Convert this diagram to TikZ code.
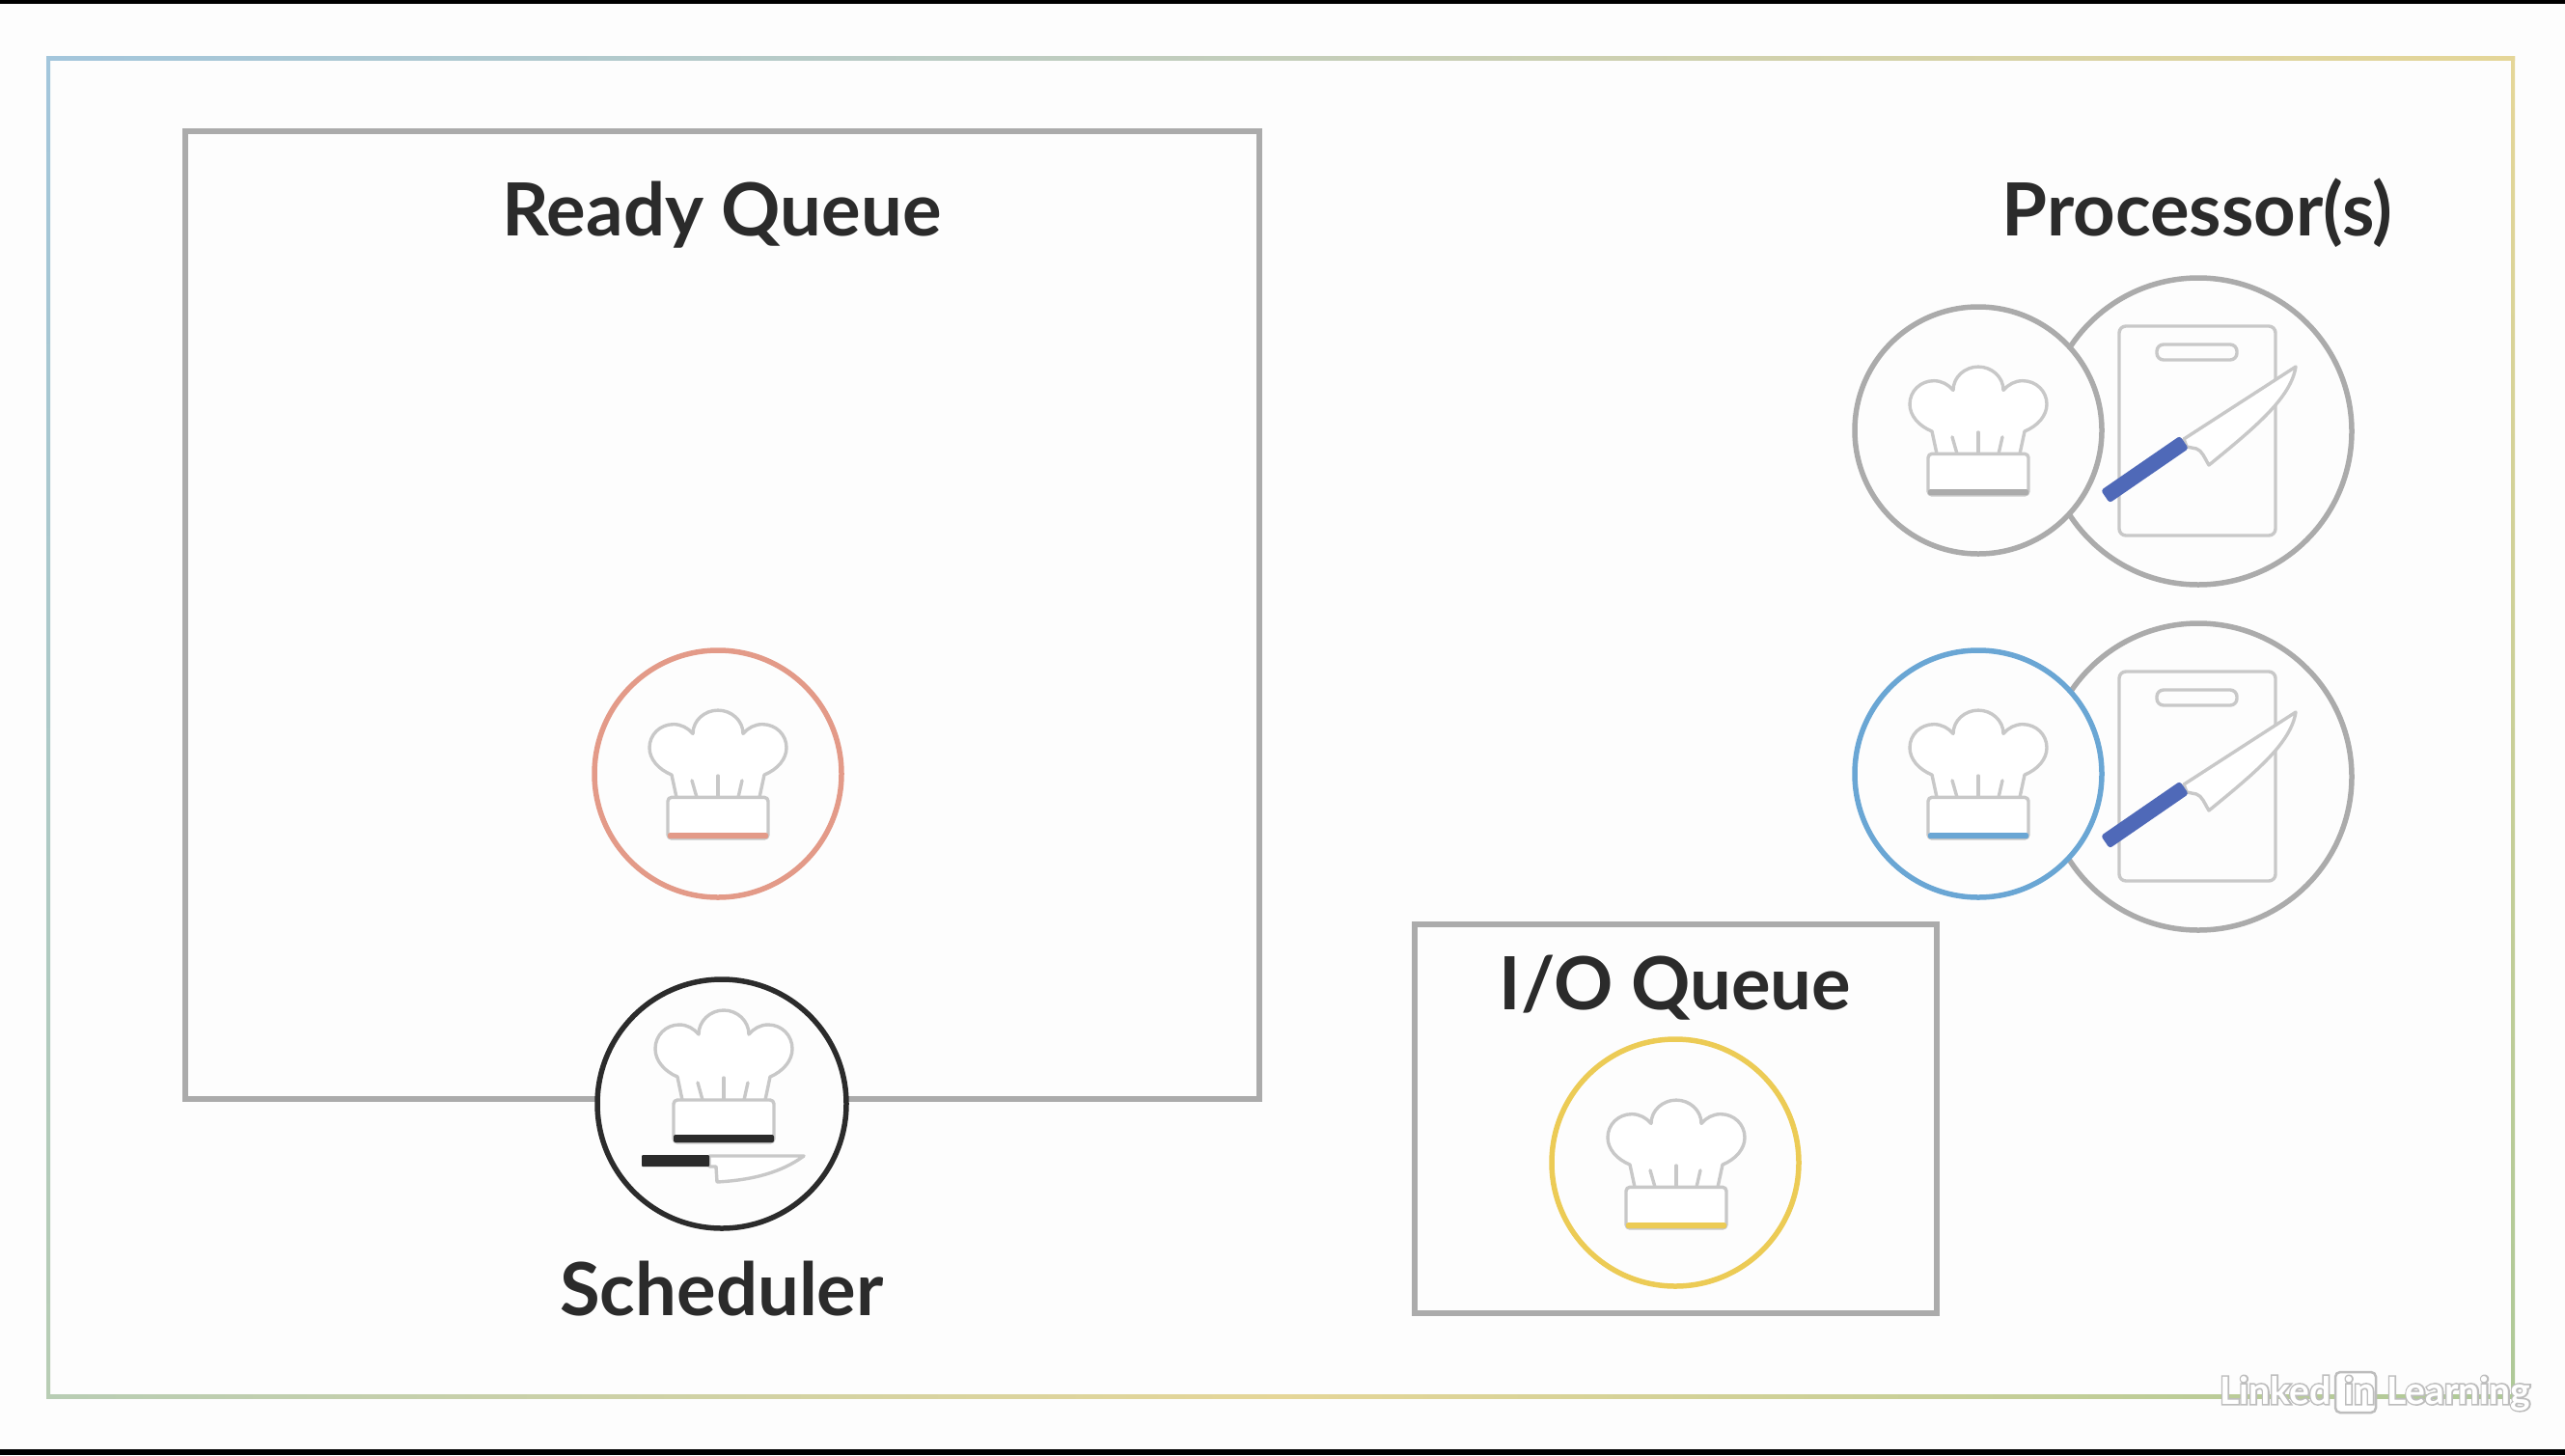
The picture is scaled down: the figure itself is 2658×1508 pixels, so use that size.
\documentclass[tikz,border=0pt]{standalone}
\usepackage{fontspec}
\setmainfont{Lato}[BoldFont={Lato Bold}]
\newfontface\wmhalo{Lato Bold}[FakeBold=8]
\newfontface\wmface{Lato Bold}
\definecolor{bgc}{HTML}{FDFDFD}
\definecolor{boxc}{HTML}{ABABAB}
\definecolor{linec}{HTML}{C8C8C8}
\definecolor{inkc}{HTML}{2B2B2B}
\definecolor{salmonc}{HTML}{E39A88}
\definecolor{bluec}{HTML}{6AA6D4}
\definecolor{yellowc}{HTML}{ECCB55}
\definecolor{knifec}{HTML}{4F69B8}
\definecolor{cblue}{HTML}{A3C6DC}
\definecolor{cyellow}{HTML}{E5D698}
\definecolor{cgreen}{HTML}{AEC998}
\definecolor{cgreengrey}{HTML}{B8CDB4}
\definecolor{wmc}{HTML}{BDBDBD}
\newcommand{\halotext}[1]{\leavevmode\rlap{\color{wmc}\wmhalo #1}{\color{white}\wmface #1}}
\tikzset{
  queuebox/.style={draw=boxc,line width=5.5pt,fill=none},
  title/.style={font=\fontsize{76}{76}\selectfont\bfseries,text=inkc,anchor=base,inner sep=0pt},
  ring/.style={circle,draw=#1,line width=5.5pt,fill=bgc,minimum size=256pt,inner sep=0pt},
  bigring/.style={circle,draw=boxc,line width=5.5pt,fill=bgc,minimum size=318pt,inner sep=0pt},
  thin line/.style={draw=linec,line width=3.4pt,line join=round,line cap=round},
  wmtext/.style={font=\fontsize{39}{39}\selectfont,anchor=base west,inner sep=0pt},
  pics/chefhat/.style 2 args={code={
    \path[thin line,fill=white] (-43,-44) -- (-48,-68)
      .. controls (-62,-74) and (-71,-85) .. (-71,-97)
      .. controls (-71,-111) and (-60,-122) .. (-46,-122)
      .. controls (-38,-122) and (-31,-118) .. (-26,-112)
      .. controls (-26,-126) and (-14,-137) .. (0,-137)
      .. controls (14,-137) and (26,-126) .. (26,-112)
      .. controls (31,-118) and (38,-122) .. (46,-122)
      .. controls (60,-122) and (71,-111) .. (71,-97)
      .. controls (71,-85) and (62,-74) .. (48,-68)
      -- (43,-44);
    \path[thin line] (-27,-62) -- (-22,-44);
    \path[thin line] (0,-67) -- (0,-44);
    \path[thin line] (25,-62) -- (21,-44);
    \path[thin line,fill=white,rounded corners=4pt] (-52,-44) rectangle (52,0);
    \fill[#1,rounded corners=2pt] (-52,-#2) rectangle (52,0);
  }},
  pics/boardknife/.style={code={
    \path[thin line,rounded corners=7pt] (-82,-109) rectangle (80,108);
    \path[thin line,rounded corners=7pt] (-43,-90) rectangle (40,-74);
    \path[thin line,fill=white] (-15,8) -- (101,-67)
      .. controls (96,-35) and (60,-5) .. (11,35)
      .. controls (6,27) and (4,20) .. (-2,18) -- (-12,16) -- cycle;
    \draw[knifec,fill=knifec,line width=6pt,line join=round] (-91.2,70.1) -- (-96.8,61.9) -- (-19.8,8.9) -- (-14.2,17.1) -- cycle;
  }}
}
\begin{document}
\begin{tikzpicture}[x=1pt,y=-1pt]
\useasboundingbox (0,0) rectangle (2658,1508);
\fill[bgc] (0,0) rectangle (2658,1508);
\fill[black] (0,0) rectangle (2658,4);
\fill[black] (0,1502) rectangle (2658,1508);
% gradient frame
\shade[left color=cblue,right color=cyellow] (48,58) rectangle (2606,62);
\shade[left color=cgreengrey,right color=cgreen,middle color=cyellow] (48,1445) rectangle (2606,1449);
\shade[top color=cblue,bottom color=cgreengrey] (48,58) rectangle (52,1449);
\shade[top color=cyellow,bottom color=cgreen] (2602,58) rectangle (2606,1449);
% ready queue
\draw[queuebox] (192,136) rectangle (1305,1139);
\node[title] (readyt) at (748,244) {Ready Queue};
\node[ring=salmonc] (c1) at (744,802) {};
\pic[yscale=.97] at (744,869) {chefhat={salmonc}{6}};
% scheduler
\node[ring=inkc,minimum size=258pt] (sched) at (748,1144) {};
\pic at (750,1184) {chefhat={inkc}{8}};
\path[thin line,fill=white] (735,1198) -- (833,1198)
  .. controls (810,1215) and (780,1223) .. (743,1225) -- (742,1209) -- (735,1209) -- cycle;
\fill[inkc,rounded corners=1pt] (665,1197) rectangle (735,1209);
\node[title] (schedt) at (748,1363) {Scheduler};
% processors
\node[title] (proct) at (2277,244) {Processor(s)};
\node[bigring] (b1) at (2278,447) {};
\node[ring=boxc] (p1) at (2050,446) {};
\pic at (2278,447) {boardknife};
\pic[yscale=.97] at (2050,513) {chefhat={boxc}{6}};
\node[bigring] (b2) at (2278,805) {};
\node[ring=bluec] (p2) at (2050,802) {};
\pic at (2278,805) {boardknife};
\pic[yscale=.97] at (2050,869) {chefhat={bluec}{6}};
% io queue
\draw[queuebox] (1466,958) rectangle (2007,1361);
\node[title] (iot) at (1736,1046) {I/O Queue};
\node[ring=yellowc] (c3) at (1736,1205) {};
\pic[yscale=.97] at (1737,1273) {chefhat={yellowc}{6}};
% watermark
\node[wmtext] (wma) at (2300,1455) {\halotext{Linked}};
\node[draw=wmc,line width=2.5pt,fill=white,rounded corners=5pt,minimum width=42pt,minimum height=42pt,inner sep=0pt] (wmb) at (2441,1443) {};
\node[wmtext] (wmc2) at (2429,1455) {\halotext{in}};
\node[wmtext] (wmd) at (2473,1455) {\halotext{Learning}};
\end{tikzpicture}
\end{document}
